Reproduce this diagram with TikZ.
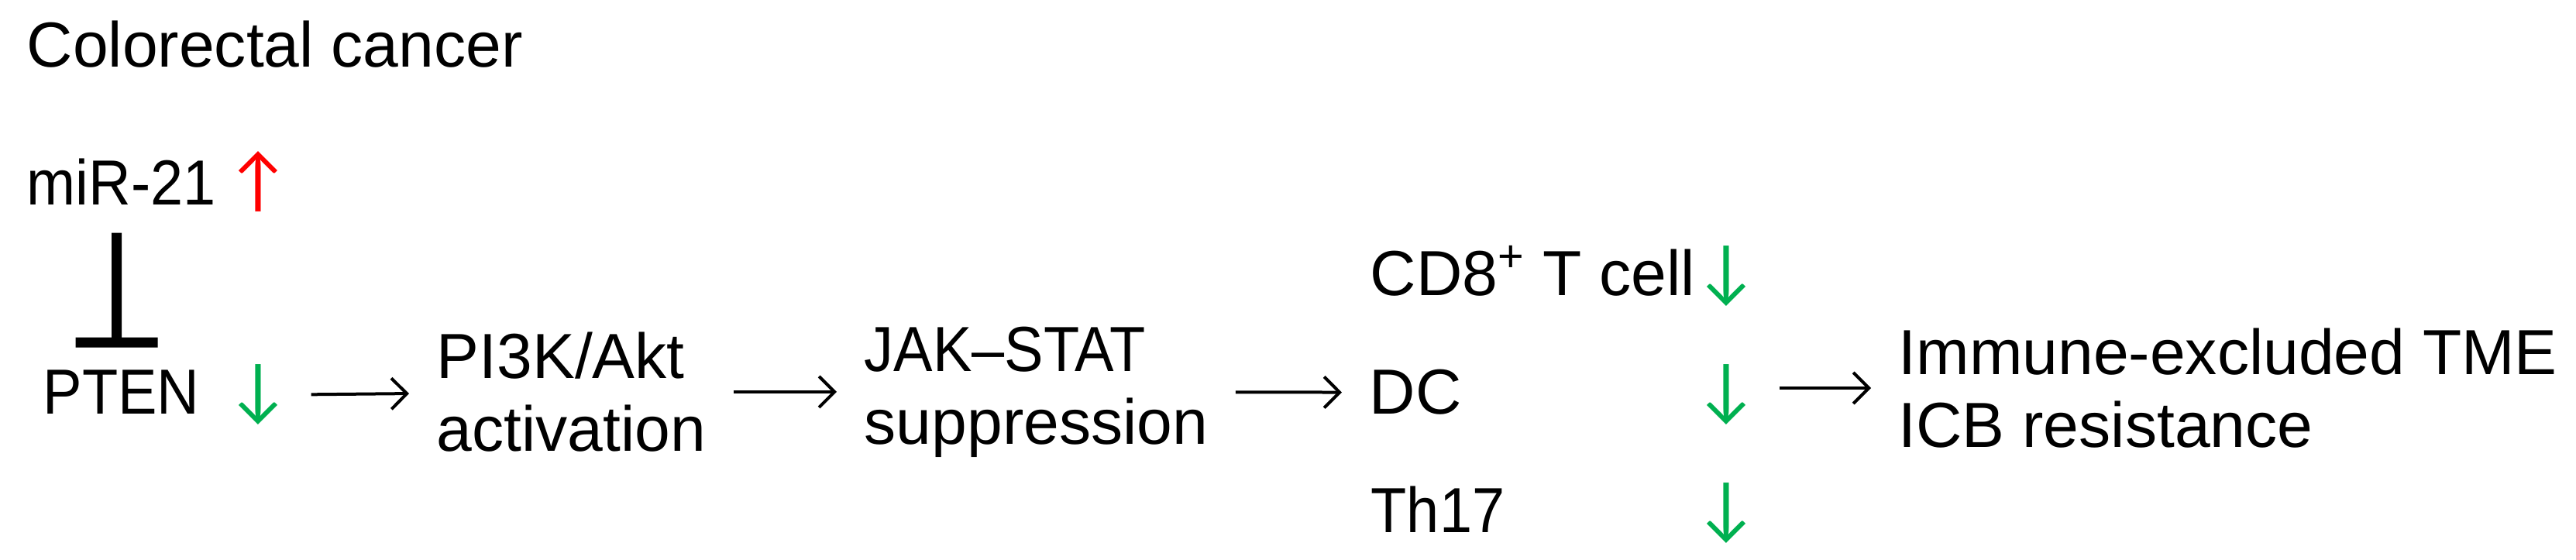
\documentclass[tikz,border=0pt]{standalone}
\usepackage{fontspec}
\setmainfont{Liberation Sans}
\newfontfamily\arrowfont{Lato}
\newfontfamily\narrowsans[FakeStretch=0.92]{Liberation Sans}
\definecolor{upred}{RGB}{255,0,0}
\definecolor{downgreen}{RGB}{0,176,80}
\usetikzlibrary{arrows.meta,positioning}

\begin{document}
\begin{tikzpicture}[font=\fontsize{23.4}{26.7}\selectfont,
  lbl/.style={inner sep=0pt,anchor=base west},
  blk/.style={inner sep=0pt,anchor=west,align=left},
  up/.style={inner sep=0pt,anchor=base,text=upred,font=\fontsize{25}{25}\selectfont\arrowfont},
  down/.style={inner sep=0pt,anchor=base,text=downgreen,font=\fontsize{25}{25}\selectfont\arrowfont},
  flow/.style={-{Straight Barb[length=2mm,width=4mm]},line width=0.04cm,shorten <=0.35cm,shorten >=0.35cm},
  inhib/.style={-{Bar[width=1.06cm]},line width=0.13cm}]
  \useasboundingbox (0,0) rectangle (33.25,7.23);
  \node[lbl] (title) at (0.34,6.36) {Colorectal cancer};
  \node[lbl] (mir) at (0.34,4.58) {\narrowsans miR-21};
  \node[up] (mirup) at (3.33,4.59) {↑};
  \node[lbl] (pten) at (0.55,1.88) {\narrowsans PTEN};
  \node[down] (ptendn) at (3.33,1.89) {↓};
  \node[blk] (pi3k) at (5.63,2.17) {PI3K/Akt\\activation};
  \node[blk] (jak) at (11.15,2.17) {{\narrowsans JAK–STAT}\\suppression};
  \node[lbl] (cd8) at (17.68,3.41) {CD8\textsuperscript{+} T cell};
  \node[lbl] (dc) at (17.67,1.88) {DC};
  \node[lbl] (th17) at (17.69,0.35) {\narrowsans Th17};
  \node[down] (cd8dn) at (22.28,3.42) {↓};
  \node[down] (dcdn) at (22.28,1.89) {↓};
  \node[down] (th17dn) at (22.28,0.36) {↓};
  \node[blk] (out) at (24.50,2.22) {Immune-excluded TME\\ICB resistance};
  \draw[inhib,shorten <=0.35cm,shorten >=0.29cm] ([xshift=-0.06cm]mir.south) -- ([xshift=-0.06cm]pten.north);
  \draw[flow] (ptendn) -- (pi3k);
  \draw[flow] (pi3k) -- (jak);
  \draw[flow] (jak) -- (dc);
  \draw[flow] (dcdn.east |- out.west) -- (out.west);
\end{tikzpicture}
\end{document}
